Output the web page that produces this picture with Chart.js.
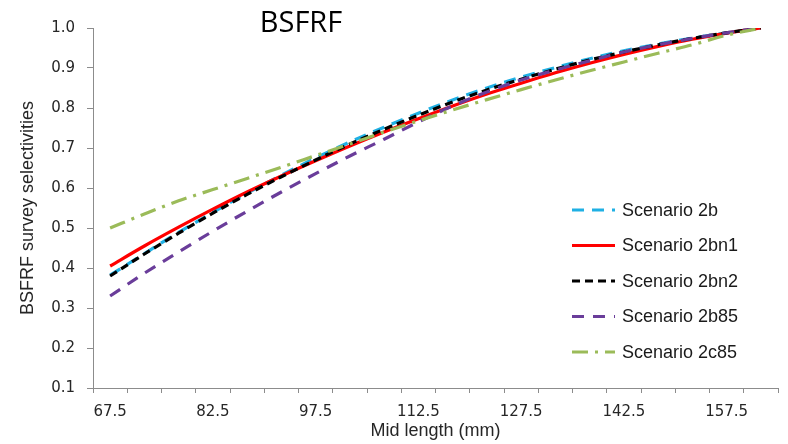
<!DOCTYPE html>
<html>
<head>
<meta charset="utf-8">
<script src="https://cdn.jsdelivr.net/npm/chart.js@4.4.1/dist/chart.umd.min.js"></script>
<style>
  html, body { margin: 0; padding: 0; background: #ffffff; }
  #wrap { width: 788px; height: 444px; position: relative; }
</style>
</head>
<body>
<div id="wrap"><canvas id="c" width="788" height="444"></canvas></div>
<script>
// ---- data ----
const midLengths = ['67.5','72.5','77.5','82.5','87.5','92.5','97.5','102.5','107.5','112.5',
                    '117.5','122.5','127.5','132.5','137.5','142.5','147.5','152.5','157.5','162.5'];
const labeledTicks = ['67.5','82.5','97.5','112.5','127.5','142.5','157.5'];
const yTicks = [0.1, 0.2, 0.3, 0.4, 0.5, 0.6, 0.7, 0.8, 0.9, 1.0];
const seriesNames = ['Scenario 2b', 'Scenario 2bn1', 'Scenario 2bn2', 'Scenario 2b85', 'Scenario 2c85'];
const scenario2b   = [0.382, 0.436, 0.489, 0.539, 0.587, 0.632, 0.675, 0.715, 0.752, 0.787, 0.820, 0.850, 0.877, 0.901, 0.923, 0.943, 0.960, 0.975, 0.988, 1.000];
const scenario2bn1 = [0.405, 0.455, 0.502, 0.547, 0.590, 0.630, 0.668, 0.705, 0.740, 0.773, 0.805, 0.835, 0.862, 0.888, 0.912, 0.934, 0.954, 0.972, 0.987, 1.000];
const scenario2bn2 = [0.380, 0.435, 0.487, 0.537, 0.584, 0.628, 0.670, 0.710, 0.747, 0.782, 0.815, 0.845, 0.872, 0.897, 0.920, 0.940, 0.958, 0.974, 0.988, 1.000];
const scenario2b85 = [0.330, 0.387, 0.440, 0.492, 0.542, 0.590, 0.636, 0.680, 0.722, 0.765, 0.805, 0.840, 0.870, 0.895, 0.918, 0.940, 0.958, 0.974, 0.988, 1.000];
const scenario2c85 = [0.500, 0.535, 0.568, 0.596, 0.624, 0.652, 0.681, 0.710, 0.740, 0.768, 0.795, 0.821, 0.846, 0.870, 0.893, 0.915, 0.937, 0.958, 0.982, 1.000];
const chartTitle = 'BSFRF';
const yTitle = 'BSFRF survey selectivities';
const xTitle = 'Mid length (mm)';

// ---- styles ----
const styles = [
  { color: '#1fb0e4', dash: [12, 8], order: 5 },
  { color: '#ff0000', dash: [], order: 4 },
  { color: '#000000', dash: [8, 5], order: 3 },
  { color: '#6a3d9a', dash: [12, 9], order: 2 },
  { color: '#9bbb59', dash: [16, 7, 3, 7], order: 1 }
];
const seriesData = [scenario2b, scenario2bn1, scenario2bn2, scenario2b85, scenario2c85];

const datasets = seriesData.map((d, i) => ({
  label: seriesNames[i],
  data: d,
  borderColor: styles[i].color,
  backgroundColor: styles[i].color,
  borderDash: styles[i].dash,
  borderWidth: 3.2,
  pointRadius: 0,
  fill: false,
  tension: 0.4,
  cubicInterpolationMode: 'monotone',
  order: styles[i].order
}));

const overlay = {
  id: 'overlay',
  afterDraw(chart) {
    const ctx = chart.ctx;
    ctx.save();
    // title
    ctx.fillStyle = '#000';
    ctx.font = '29px "Open Sans", sans-serif';
    ctx.textAlign = 'center';
    ctx.textBaseline = 'alphabetic';
    ctx.fillText(chartTitle, 301, 32);
    // legend inside plot
    const x0 = 572, x1 = 615, tx = 622, y0 = 210, dy = 35.5;
    chart.data.datasets.forEach((ds, i) => {
      const y = y0 + i * dy;
      ctx.strokeStyle = ds.borderColor;
      ctx.lineWidth = 3.2;
      ctx.setLineDash(ds.borderDash || []);
      ctx.beginPath();
      ctx.moveTo(x0, y);
      ctx.lineTo(x1, y);
      ctx.stroke();
      ctx.setLineDash([]);
      ctx.fillStyle = '#1a1a1a';
      ctx.font = '18px "Liberation Sans", Arial, sans-serif';
      ctx.textAlign = 'left';
      ctx.textBaseline = 'middle';
      ctx.fillText(ds.label, tx, y + 1);
    });
    ctx.restore();
  }
};

new Chart(document.getElementById('c'), {
  type: 'line',
  data: { labels: midLengths, datasets },
  plugins: [overlay],
  options: {
    responsive: false,
    animation: false,
    devicePixelRatio: 1,
    layout: { padding: { top: 28, right: 10, left: 17, bottom: 2 } },
    plugins: {
      legend: { display: false },
      tooltip: { enabled: false },
      title: { display: false }
    },
    scales: {
      x: {
        type: 'category',
        offset: true,
        border: { color: '#8c8c8c', width: 1 },
        grid: { offset: true, drawOnChartArea: false, drawTicks: true, tickLength: 5, color: '#8c8c8c' },
        afterFit(scale) { scale.height = 54; },
        ticks: {
          autoSkip: false,
          maxRotation: 0,
          padding: 10,
          color: '#262626',
          font: { family: '"DejaVu Sans", Verdana, sans-serif', size: 15 },
          callback: function (v) {
            const lab = this.getLabelForValue(v);
            return labeledTicks.includes(lab) ? lab : '';
          }
        },
        title: {
          display: true, text: xTitle, color: '#262626', padding: { top: 0, bottom: 0 },
          font: { family: '"Liberation Sans", Arial, sans-serif', size: 18 }
        }
      },
      y: {
        min: yTicks[0],
        max: yTicks[yTicks.length - 1],
        border: { color: '#8c8c8c', width: 1 },
        grid: { drawOnChartArea: false, drawTicks: true, tickLength: 6, color: '#8c8c8c' },
        afterBuildTicks(scale) { scale.ticks = yTicks.map(v => ({ value: v })); },
        afterFit(scale) { scale.width = 76; },
        ticks: {
          padding: 12,
          color: '#262626',
          font: { family: '"DejaVu Sans", Verdana, sans-serif', size: 15 },
          callback: v => Number(v).toFixed(1)
        },
        title: {
          display: true, text: yTitle, color: '#262626', padding: { top: 0, bottom: 4 },
          font: { family: '"Liberation Sans", Arial, sans-serif', size: 18 }
        }
      }
    }
  }
});
</script>
</body>
</html>
